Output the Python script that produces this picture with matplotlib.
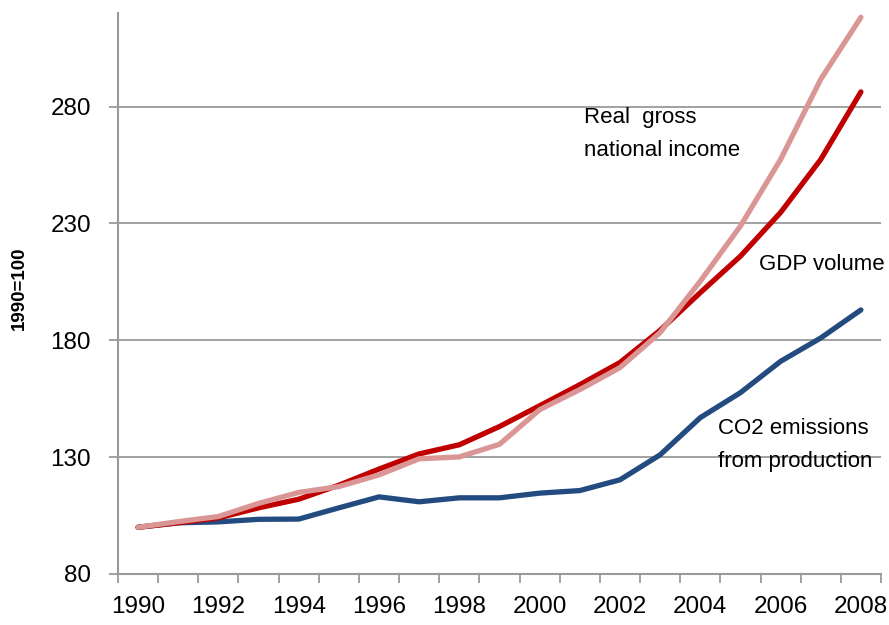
import numpy as np
import matplotlib.pyplot as plt

plt.rcParams['font.family'] = ['Liberation Sans', 'DejaVu Sans']

years = list(range(1990, 2009))
year_labels = [str(y) if y % 2 == 0 else '' for y in years]

co2 = [100, 101.9, 102.3, 103.4, 103.5, 108.3, 113.0, 110.9, 112.6, 112.6,
       114.6, 115.7, 120.3, 131.0, 146.9, 157.6, 171.0, 181.0, 193.0]
gdp = [100, 101.9, 104.0, 108.3, 112.0, 118.0, 124.9, 131.4, 135.3, 143.1,
       152.0, 161.0, 170.5, 184.3, 200.4, 216.0, 234.7, 257.4, 286.3]
rgni = [100, 102.4, 104.6, 110.2, 114.9, 117.4, 122.4, 129.3, 130.1, 135.5,
        150.3, 158.9, 168.3, 183.3, 205.3, 228.9, 257.4, 291.7, 318.2]

grey = '#9a9a9a'

fig, ax = plt.subplots(figsize=(8.89, 6.25), dpi=100)
fig.subplots_adjust(left=0.1327, right=0.991, bottom=0.0816, top=0.979)

x = np.arange(len(years))
ax.plot(x, co2, color='#234b80', lw=3.8, solid_capstyle='round', zorder=3)
ax.plot(x, gdp, color='#c00000', lw=3.8, solid_capstyle='round', zorder=3)
ax.plot(x, rgni, color='#da9695', lw=3.8, solid_capstyle='round', zorder=4)

ax.set_xlim(-0.5, len(years) - 0.5)
ax.set_ylim(80, 320)
ax.set_yticks([80, 130, 180, 230, 280])
ax.yaxis.grid(True, color=grey, lw=1.3)
ax.set_axisbelow(True)

# ticks between categories, labels on categories
ax.set_xticks(np.arange(-0.5, len(years), 1.0))
ax.set_xticklabels([])
ax.set_xticks(x, minor=True)
ax.set_xticklabels(year_labels, minor=True)
ax.tick_params(axis='x', which='major', length=6.5, width=1.3, color=grey)
ax.tick_params(axis='x', which='minor', length=0, pad=16, labelsize=17.5)
ax.tick_params(axis='y', length=6.5, width=1.3, color=grey, pad=13,
               labelsize=17.5)

for s in ['top', 'right']:
    ax.spines[s].set_visible(False)
for s in ['left', 'bottom']:
    ax.spines[s].set_color(grey)
    ax.spines[s].set_linewidth(1.5)

ax.set_ylabel('1990=100', fontsize=13.5, fontweight='bold')
ax.yaxis.set_label_coords(-0.118, 0.509)

ax.text(11.1, 280, 'Real  gross\nnational income', fontsize=16,
        va='top', ha='left', linespacing=1.8)
ax.text(15.45, 212.5, 'GDP volume', fontsize=16, va='center', ha='left')
ax.text(14.45, 146.6, 'CO2 emissions\nfrom production', fontsize=16,
        va='top', ha='left', linespacing=1.7)

plt.savefig('out.png', dpi=100)
plt.close(fig)
